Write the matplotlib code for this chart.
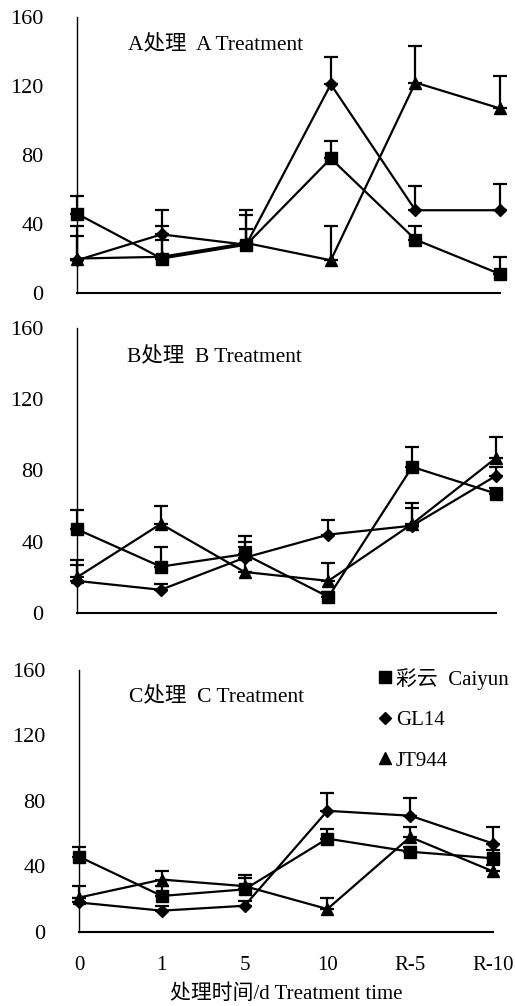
import numpy as np
import matplotlib
matplotlib.use('Agg')
import matplotlib.pyplot as plt

plt.rcParams['font.family'] = ['Liberation Serif', 'Noto Sans CJK SC']

days = ['0', '1', '5', '10', 'R-5', 'R-10']
yticks = [0, 40, 80, 120, 160]

# A treatment
caiyun_A = [46, 20, 28, 78, 31, 11]
caiyun_A_err = [10, 11, 9, 10, 8, 10]
gl14_A = [19, 34, 28, 121, 48, 48]
gl14_A_err = [14, 14, 20, 16, 14, 15]
jt944_A = [20, 21, 29, 19, 122, 107]
jt944_A_err = [19, 18, 16, 20, 21, 19]

# B treatment
caiyun_B = [47, 26, 33, 9, 82, 67]
caiyun_B_err = [11, 11, 10, 3, 11, 3]
gl14_B = [18, 13, 31, 44, 49, 77]
gl14_B_err = [9, 3, 9, 8, 10, 5]
jt944_B = [20, 50, 23, 18, 50, 87]
jt944_B_err = [10, 10, 14, 10, 12, 12]

# C treatment
caiyun_C = [46, 22, 26, 57, 49, 45]
caiyun_C_err = [6, 6, 7, 6, 3, 5]
gl14_C = [18, 13, 16, 74, 71, 54]
gl14_C_err = [3, 3, 3, 11, 11, 10]
jt944_C = [21, 32, 28, 14, 58, 37]
jt944_C_err = [7, 5, 7, 7, 6, 4]

panels = [
    ('A处理  A Treatment', [caiyun_A, gl14_A, jt944_A], [caiyun_A_err, gl14_A_err, jt944_A_err]),
    ('B处理  B Treatment', [caiyun_B, gl14_B, jt944_B], [caiyun_B_err, gl14_B_err, jt944_B_err]),
    ('C处理  C Treatment', [caiyun_C, gl14_C, jt944_C], [caiyun_C_err, gl14_C_err, jt944_C_err]),
]
names = ['彩云  Caiyun', 'GL14', 'JT944']
markers = ['s', 'D', '^']
msizes = [9, 6.5, 8.5]

# axes boxes in figure fraction [left, bottom, width, height]
boxes = [
    [0.1495, 0.7087, 0.8214, 0.2744],
    [0.1495, 0.3907, 0.8136, 0.2833],
    [0.1534, 0.0736, 0.8039, 0.2604],
]

fig = plt.figure(figsize=(5.15, 10.06), dpi=100)
x = np.arange(len(days))
for k, (title, vals, errs) in enumerate(panels):
    ax = fig.add_axes(boxes[k])
    for v, e, m, ms in zip(vals, errs, markers, msizes):
        v = np.array(v)
        e = np.array(e)
        cont = ax.errorbar(x, v, yerr=[np.zeros_like(e), e], fmt='-', marker=m, ms=ms,
                           color='black', lw=1.6, elinewidth=1.6, capsize=5, capthick=1.6)
        cont.lines[0].set_clip_on(False)
        for art in cont.lines[1]:
            art.set_clip_on(False)
        for art in cont.lines[2]:
            art.set_clip_on(False)
    ax.set_xlim(0, 5)
    ax.set_ylim(0, 160)
    ax.set_yticks(yticks)
    ax.tick_params(axis='y', length=0, pad=24, labelsize=16)
    ax.spines['top'].set_visible(False)
    ax.spines['right'].set_visible(False)
    ax.spines['left'].set_linewidth(1.0)
    ax.spines['bottom'].set_linewidth(1.5)
    ax.text(0.12, 0.9, title, transform=ax.transAxes, fontsize=15.5, va='center')
    if k < 2:
        ax.set_xticks([])
    else:
        ax.set_xticks(x)
        ax.set_xticklabels(days)
        ax.tick_params(axis='x', length=0, pad=17, labelsize=15)
        ax.set_xlabel('处理时间/d Treatment time', fontsize=15, labelpad=7)
        proxies = [plt.Line2D([], [], ls='none', marker=m, color='black', ms=ms)
                   for m, ms in zip(markers, msizes)]
        ax.legend(proxies, names, loc='upper left', bbox_to_anchor=(0.705, 1.04),
                  frameon=False, fontsize=15, handlelength=0.6, handletextpad=0.2,
                  labelspacing=1.0, borderaxespad=0)

fig.savefig('out.png', dpi=100)
